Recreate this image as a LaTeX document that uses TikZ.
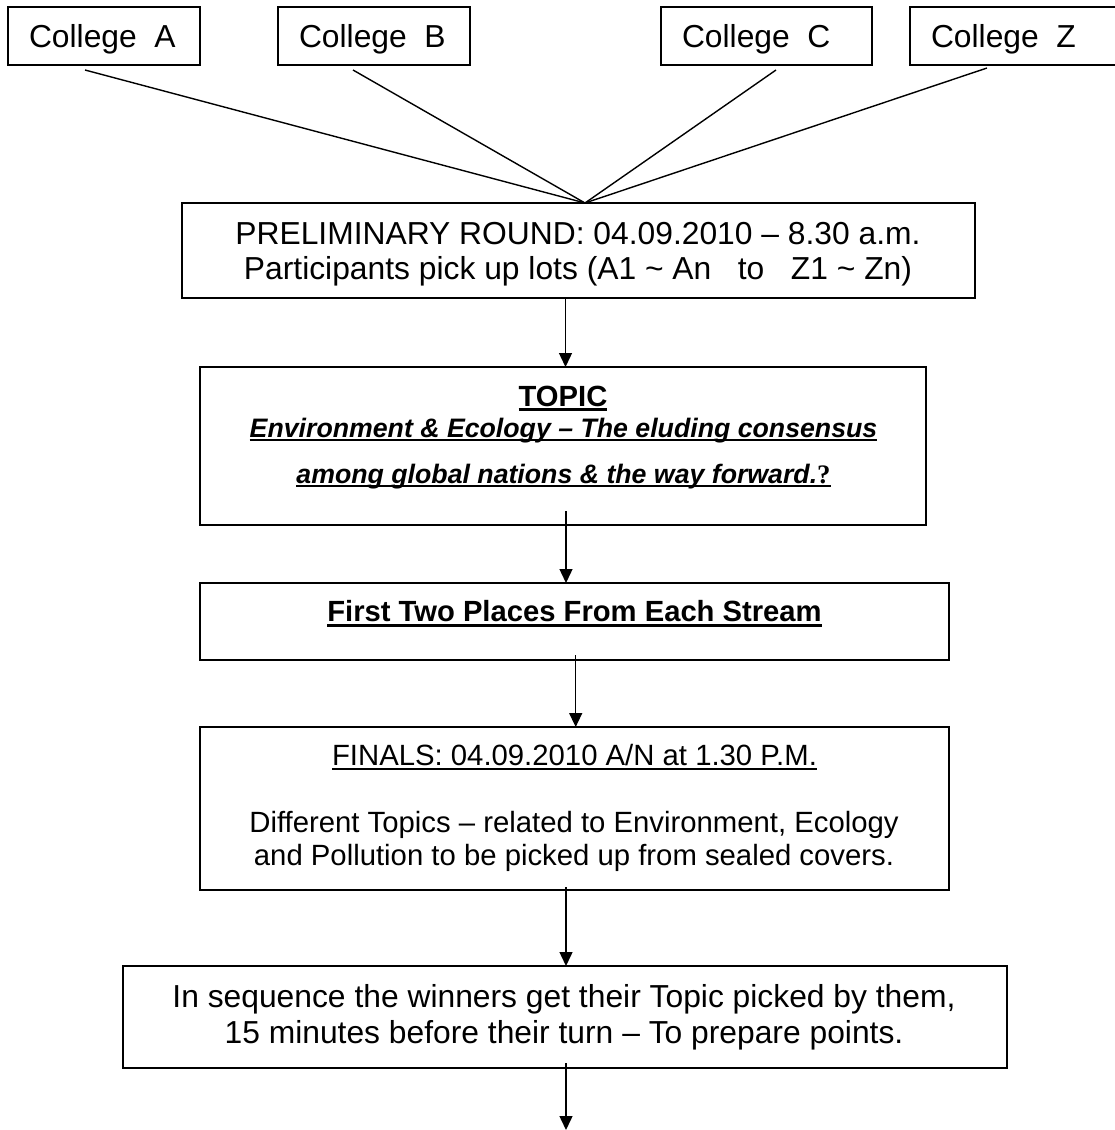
\documentclass[tikz,border=0pt]{standalone}
\usepackage{fontspec}
\setmainfont{Liberation Sans}
\newfontfamily\serifq{Liberation Serif}
\usetikzlibrary{arrows.meta}
\newcommand{\myul}[3]{\setbox0=\hbox{#3}\rlap{\rule[-#1]{\wd0}{#2}}\box0}
\newcommand{\fsA}{\fontsize{31.8pt}{36pt}\selectfont}
\newcommand{\fsF}{\fontsize{29.3pt}{33pt}\selectfont}
\newcommand{\fsB}{\fontsize{29.2pt}{33pt}\selectfont\bfseries}
\newcommand{\fsI}{\fontsize{26.7pt}{30pt}\selectfont\bfseries\itshape}
\begin{document}
\begin{tikzpicture}[x=1pt,y=-1pt,
  box/.style={draw, line width=1.7pt, inner sep=0pt, outer sep=0pt, anchor=north west},
  lbl/.style={inner sep=0pt, outer sep=0pt, anchor=base},
  lblw/.style={inner sep=0pt, outer sep=0pt, anchor=base west},
  conn/.style={line width=1.4pt},
  arr/.style={conn, -{Triangle[length=14pt,width=13pt]}}]
\useasboundingbox (0,0) rectangle (1115,1130);

% College boxes
\node[box, minimum width=192pt, minimum height=58pt] (ca) at (8,7) {};
\node[box, minimum width=192pt, minimum height=58pt] (cb) at (278,7) {};
\node[box, minimum width=211pt, minimum height=58pt] (cc) at (661,7) {};
\node[box, minimum width=207pt, minimum height=58pt] (cz) at (910,7) {};
\node[lblw, font=\fsA] (ta) at (29,47) {College\ \ A};
\node[lblw, font=\fsA] (tb) at (299,47) {College\ \ B};
\node[lblw, font=\fsA] (tc) at (682,47) {College\ \ C};
\node[lblw, font=\fsA] (tz) at (931,47) {College\ \ Z};

% Preliminary
\node[box, minimum width=793pt, minimum height=95pt] (pre) at (182,203) {};
\node[lbl, font=\fsA] (pre1) at (578,244) {PRELIMINARY ROUND: 04.09.2010 – 8.30 a.m.};
\node[lbl, font=\fsA] (pre2) at (578,279) {Participants pick up lots (A1 \textasciitilde\ An\ \ \ to\ \ \ Z1 \textasciitilde\ Zn)};

% lines from colleges
\coordinate (hub) at (585,203);
\coordinate (sa) at (85,70);
\coordinate (sb) at (353,70);
\coordinate (sc) at (776,70);
\coordinate (sz) at (987,68);
\draw[conn] (sa) -- (hub);
\draw[conn] (sb) -- (hub);
\draw[conn] (sc) -- (hub);
\draw[conn] (sz) -- (hub);

% Topic
\node[box, minimum width=726pt, minimum height=158pt] (topic) at (200,367) {};
\node[lbl, font=\fsB] (top1) at (563,406) {\myul{4.5pt}{2.5pt}{TOPIC}};
\node[lbl, font=\fsI] (top2) at (563.5,437) {\myul{4.4pt}{2.3pt}{Environment \& Ecology – The eluding consensus}};
\node[lbl, font=\fsI] (top3) at (563.5,483) {\myul{4.4pt}{2.3pt}{among global nations \& the way forward.{\serifq\upshape\bfseries ?}}};

% First two
\node[box, minimum width=749pt, minimum height=77pt] (first) at (200,583) {};
\node[lbl, font=\fsB] (first1) at (574.5,621.7) {\myul{5pt}{2.5pt}{First Two Places From Each Stream}};

% Finals
\node[box, minimum width=749pt, minimum height=163pt] (finals) at (200,727) {};
\node[lbl, font=\fsF] (fin1) at (574.5,765) {\myul{4.8pt}{1.7pt}{FINALS: 04.09.2010 A/N at 1.30 P.M.}};
\node[lbl, font=\fsF] (fin2) at (574,832) {Different Topics – related to Environment, Ecology};
\node[lbl, font=\fsF] (fin3) at (574,865) {and Pollution to be picked up from sealed covers.};

% Last
\node[box, minimum width=884pt, minimum height=102pt] (last) at (123,966) {};
\node[lbl, font=\fsA] (last1) at (564,1007) {In sequence the winners get their Topic picked by them,};
\node[lbl, font=\fsA] (last2) at (564,1043) {15 minutes before their turn – To prepare points.};

% arrows
\coordinate (a1) at (565.5,298);
\coordinate (a2) at (566,511);
\coordinate (a3) at (575.7,655);
\coordinate (a4) at (566,887);
\coordinate (a5) at (566,1063);
\coordinate (a5e) at (566,1130);
\draw[arr] (a1) -- (a1 |- topic.north);
\draw[arr] (a2) -- (a2 |- first.north);
\draw[arr] (a3) -- (a3 |- finals.north);
\draw[arr] (a4) -- (a4 |- last.north);
\draw[arr] (a5) -- (a5e);
\end{tikzpicture}
\end{document}
